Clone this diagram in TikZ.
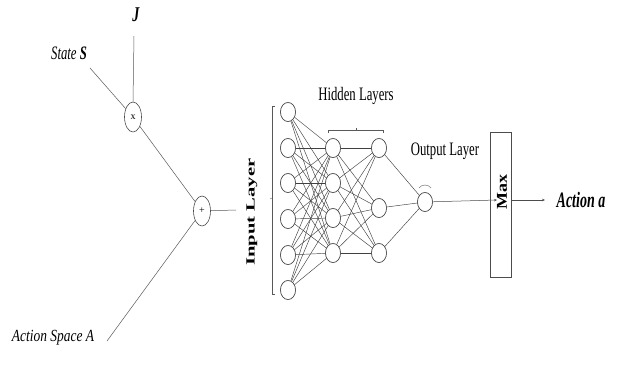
\documentclass[tikz,border=0pt]{standalone}
\usepackage{fontspec}
\setmainfont{Liberation Serif}
\usetikzlibrary{shapes.geometric,arrows.meta}
\begin{document}
\begin{tikzpicture}[x=1pt,y=-1pt,
  neuron/.style={ellipse,draw=black!70,line width=0.6pt,minimum width=15pt,minimum height=19pt,inner sep=0pt,fill=white},
  opnode/.style={ellipse,draw=black!70,line width=0.6pt,minimum width=17pt,minimum height=30pt,inner sep=0pt,font=\fontsize{10}{10}\selectfont},
  lbl/.style={inner sep=0pt,font=\fontsize{19}{19}\selectfont,xscale=0.67},
  conn/.style={draw=black!65,line width=0.5pt},
  edge/.style={draw=black!75,line width=0.45pt},
  arr/.style={draw=black!70,line width=0.5pt,-{Stealth[length=3pt,width=2.5pt]}}]
\useasboundingbox[fill=white] (0,0) rectangle (624,365);

% left inputs
\node[lbl,font=\fontsize{21}{21}\selectfont\bfseries\itshape] (J) at (136,15) {J};
\node[lbl,font=\fontsize{19}{19}\selectfont\itshape] (S) at (69,53) {State \textbf{S}};
\node[lbl,font=\fontsize{17}{17}\selectfont\itshape,xscale=1.18] (A) at (53,338) {Action Space A};
\coordinate (Jend) at (134,36);
\coordinate (Send) at (90,68);
\coordinate (Aend) at (107,341);

\node[opnode] (X) at (133,117) {x};
\node[opnode] (P) at (202,211) {+};
\coordinate (Pout) at (236,210);

\draw[conn] (Jend) -- (X.north);
\draw[conn] (Send) -- (X);
\draw[conn] (X) -- (P);
\draw[conn] (Aend) -- (P);
\draw[conn] (P) -- (Pout);

% input layer label and bracket
\node[inner sep=0pt,font=\fontsize{12.5}{12.5}\selectfont\bfseries,rotate=90,xscale=1.65] (IL) at (252,212) {Input Layer};
\coordinate (bt) at (272,106);
\coordinate (bb) at (272,294);
\draw[conn,line width=0.4pt] ([xshift=3pt]bt) -- (bt) -- (bb) -- ([xshift=3pt]bb);
\draw[conn,line width=0.4pt] (272,198) -- (270,199);

% neurons
\foreach \i/\y in {1/112,2/148,3/183,4/219,5/255,6/290}
  \node[neuron] (i\i) at (288,\y) {};
\foreach \i/\y in {1/148,2/183,3/218,4/253}
  \node[neuron] (h\i) at (333,\y) {};
\foreach \i/\y in {1/148,2/208,3/253}
  \node[neuron] (g\i) at (379,\y) {};
\node[neuron] (o) at (425,202) {};

\foreach \i in {1,...,6}
  \foreach \j in {1,...,4}
    \draw[edge] (i\i) -- (h\j);
\foreach \i in {1,...,4}
  \foreach \j in {1,...,3}
    \draw[edge] (h\i) -- (g\j);
\foreach \j in {1,...,3}
  \draw[edge] (g\j) -- (o);

% redraw neuron outlines on top of the edges
\foreach \n in {i1,i2,i3,i4,i5,i6,h1,h2,h3,h4,g1,g2,g3,o}
  \node[neuron] at (\n) {};

% hidden bracket
\draw[conn,line width=0.4pt] (328,133) -- (328,130) -- (383,130) -- (383,133);
\draw[conn,line width=0.4pt] (356,130) -- (356,128);
\node[lbl] (HL) at (356,96) {Hidden Layers};

% output label and arc
\node[lbl] (OL) at (445,151) {Output Layer};
\draw[conn,line width=0.4pt] (419,188) .. controls (422,184) and (428,184) .. (431,188);

% max box
\node[draw=black!70,line width=0.6pt,minimum width=21pt,minimum height=145pt,inner sep=0pt] (M) at (500.5,204.5) {};
\node[inner sep=0pt,font=\fontsize{15}{15}\selectfont\bfseries,rotate=90,xscale=1.2] (Mx) at (502,192) {Max};
\coordinate (Min) at (497,200);
\coordinate (Mout) at (545,200);
\draw[arr] (o) -- (Min);
\draw[arr] (511,200) -- (Mout);
\node[lbl,font=\fontsize{22}{22}\selectfont\bfseries\itshape,xscale=0.95] (Aa) at (581,200) {Action a};
\end{tikzpicture}
\end{document}
